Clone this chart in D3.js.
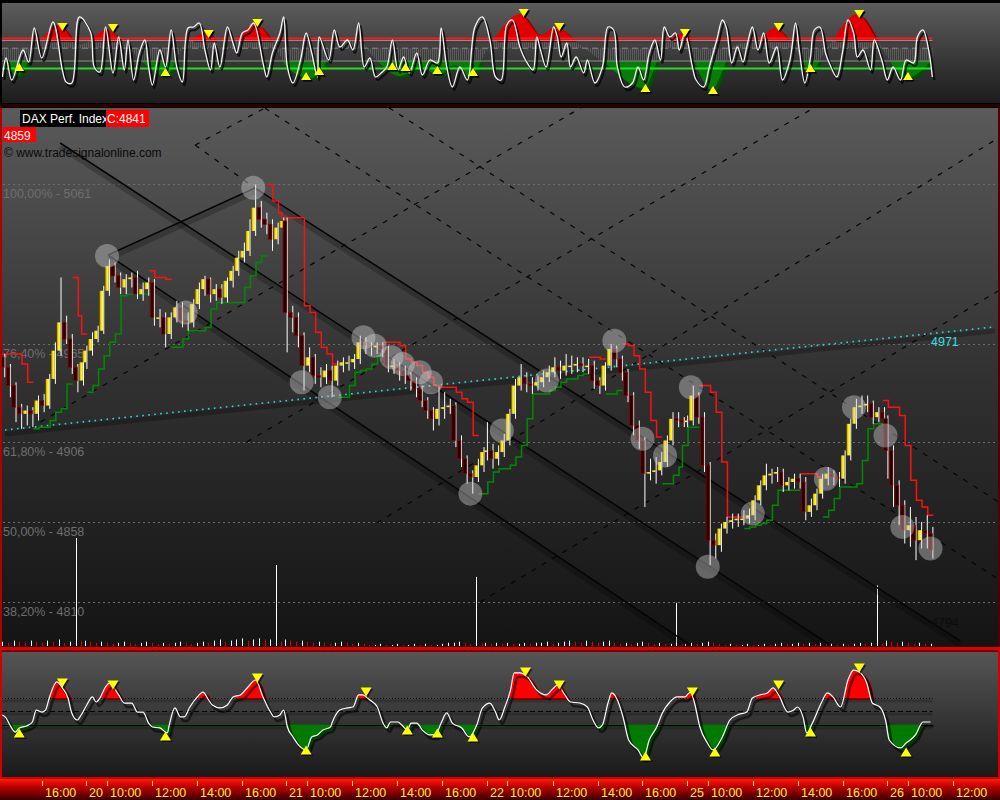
<!DOCTYPE html>
<html>
<head>
<meta charset="utf-8">
<title>DAX Perf. Index</title>
<script src="https://cdn.jsdelivr.net/npm/d3@7/dist/d3.min.js"></script>
<style>
  html, body { margin: 0; padding: 0; background: #000; }
  svg { display: block; font-family: "Liberation Sans", Arial, sans-serif; }
</style>
</head>
<body>
<svg id="chart" width="1000" height="800"></svg>
<script>
// ---------------- data ----------------
const dayLabels = ["19", "20", "21", "22", "25", "26"];
const barsPerDay = [15, 36, 36, 36, 36, 9];
const firstBarMinute = [315, 0, 0, 0, 0, 0];   // minutes after 09:00
const sessionLength = 534;                      // minutes per trading day on the time axis
const barMinutes = 15;
const hourTicks = [10, 12, 14, 16];

const firstOpen = 4957;
const closes = [
  4951, 4940, 4927, 4923, 4925, 4923, 4931, 4928, 4944, 4961, 4978, 4968, 4951, 4943, 4954,
  4961, 4968, 4973, 4997, 5012, 5006, 4999, 5004, 5005, 4995, 4998, 5002, 4981, 4981, 4971, 4981, 4987, 4979, 4978, 4989, 4998, 5004, 4995, 4998, 4993, 5003, 5009, 5017, 5021, 5033, 5047, 5040, 5037, 5028, 5035, 5039,
  4984, 4981, 4970, 4952, 4957, 4946, 4945, 4949, 4943, 4952, 4954, 4954, 4956, 4966, 4964, 4963, 4964, 4962, 4952, 4952, 4949, 4946, 4943, 4938, 4931, 4925, 4920, 4926, 4927, 4928, 4907, 4896, 4887, 4885, 4892, 4900,
  4901, 4896, 4900, 4907, 4923, 4940, 4945, 4941, 4940, 4942, 4945, 4948, 4951, 4949, 4952, 4952, 4953, 4952, 4952, 4943, 4940, 4952, 4962, 4956, 4948, 4934, 4916, 4907, 4887, 4888, 4889, 4894, 4907, 4920, 4919, 4918,
  4919, 4934, 4921, 4892, 4847, 4844, 4854, 4858, 4859, 4860, 4860, 4862, 4871, 4880, 4886, 4887, 4888, 4880, 4882, 4884, 4882, 4864, 4868, 4875, 4884, 4887, 4885, 4884, 4898, 4917, 4927, 4928, 4929, 4921, 4924, 4920,
  4901, 4880, 4868, 4853, 4856, 4847, 4853, 4851, 4841
];
const highs = [
  4959, 4953, 4942, 4929, 4928, 4927, 4934, 4935, 4947, 4966, 5005, 4982, 4971, 4953, 4957,
  4964, 4972, 4976, 5000, 5016, 5014, 5008, 5007, 5008, 5009, 5002, 5005, 5004, 4986, 4984, 4984, 4991, 4990, 4984, 4992, 5002, 5006, 5005, 5001, 5001, 5005, 5012, 5021, 5026, 5040, 5061, 5051, 5044, 5040, 5038, 5041,
  5041, 4988, 4984, 4972, 4963, 4959, 4951, 4953, 4952, 4955, 4957, 4958, 4959, 4970, 4969, 4966, 4966, 4966, 4964, 4956, 4954, 4952, 4948, 4945, 4940, 4933, 4927, 4939, 4936, 4932, 4930, 4910, 4898, 4889, 4896, 4903,
  4918, 4905, 4904, 4911, 4926, 4944, 4953, 4948, 4945, 4946, 4949, 4952, 4957, 4955, 4959, 4958, 4957, 4957, 4956, 4955, 4945, 4954, 4965, 4964, 4958, 4950, 4936, 4919, 4909, 4896, 4897, 4900, 4910, 4924, 4924, 4921,
  4922, 4940, 4936, 4924, 4894, 4851, 4857, 4861, 4863, 4863, 4865, 4866, 4874, 4883, 4893, 4890, 4891, 4890, 4885, 4887, 4887, 4885, 4872, 4878, 4887, 4891, 4889, 4888, 4901, 4920, 4932, 4934, 4934, 4931, 4927, 4927,
  4922, 4904, 4883, 4871, 4867, 4861, 4858, 4862, 4855
];
const lows = [
  4945, 4933, 4918, 4914, 4916, 4915, 4919, 4924, 4926, 4941, 4958, 4965, 4947, 4936, 4940,
  4950, 4958, 4966, 4971, 4994, 5002, 4995, 4995, 4999, 4992, 4991, 4994, 4976, 4975, 4963, 4968, 4978, 4975, 4973, 4975, 4986, 4994, 4990, 4991, 4989, 4990, 4999, 5006, 5014, 5018, 5030, 5035, 5031, 5021, 5025, 5031,
  4960, 4972, 4963, 4937, 4948, 4941, 4939, 4941, 4933, 4940, 4948, 4949, 4950, 4953, 4959, 4958, 4959, 4957, 4948, 4947, 4943, 4941, 4937, 4933, 4927, 4920, 4913, 4916, 4920, 4923, 4903, 4891, 4881, 4875, 4882, 4888,
  4895, 4890, 4892, 4897, 4904, 4920, 4937, 4936, 4935, 4937, 4939, 4942, 4945, 4944, 4946, 4947, 4948, 4948, 4947, 4938, 4935, 4937, 4949, 4951, 4943, 4930, 4910, 4902, 4867, 4883, 4881, 4886, 4891, 4904, 4915, 4915,
  4915, 4916, 4917, 4888, 4832, 4836, 4840, 4851, 4854, 4855, 4856, 4857, 4859, 4868, 4877, 4881, 4882, 4876, 4877, 4878, 4878, 4859, 4861, 4865, 4872, 4880, 4880, 4879, 4881, 4895, 4914, 4923, 4924, 4917, 4918, 4915,
  4884, 4867, 4856, 4845, 4843, 4835, 4842, 4842, 4836
];
const volumes = [
  4, 3, 5, 4, 3, 5, 4, 3, 5, 4, 6, 3, 4, 100, 5,
  5, 4, 3, 4, 3, 2, 3, 4, 3, 2, 3, 4, 3, 2, 3, 2, 3, 4, 3, 2, 3, 4, 3, 5, 6, 4, 5, 6, 7, 5, 6, 7, 6, 6, 75, 4,
  6, 5, 4, 5, 4, 3, 4, 3, 2, 3, 4, 3, 2, 3, 2, 1, 1, 2, 1, 1, 2, 1, 1, 2, 1, 2, 1, 1, 2, 3, 3, 4, 3, 2, 64, 3,
  3, 2, 3, 2, 3, 2, 2, 3, 2, 3, 3, 4, 2, 3, 4, 5, 4, 3, 5, 4, 3, 4, 5, 3, 2, 3, 2, 3, 4, 3, 2, 3, 2, 2, 40, 2,
  2, 3, 2, 3, 4, 3, 2, 1, 2, 1, 1, 2, 1, 1, 2, 1, 2, 3, 2, 2, 3, 2, 3, 2, 3, 2, 2, 1, 2, 1, 2, 3, 2, 3, 56, 2,
  5, 4, 3, 4, 3, 2, 3, 2, 2
];

// Fibonacci retracement of the swing
const fibLow = 4655, fibHigh = 5061;
const fibLevels = [0.382, 0.5, 0.618, 0.764, 1.0];

// swing markers (bar index, price)
const pivotBars   = [19, 33, 45, 54, 59, 65, 67, 70, 72, 75, 77, 84, 90, 98, 110, 115, 119, 124, 127, 135, 148, 153, 159, 162, 167];
const pivotPrices = [5018, 4984, 5059, 4942, 4933, 4969, 4964, 4957, 4953, 4948, 4942, 4875, 4913, 4943, 4967, 4908, 4898, 4939, 4831, 4863, 4884, 4927, 4910, 4855, 4842];

// trend lines: [day, time, price] -> [day, time, price]
const channelLines = [
  [["20", "16:35", 5058.8], ["26", "12:19", 4786.4]],
  [["19", "16:49", 5085.9], ["25", "15:26", 4784.0]],
  [["20", "10:03", 5018.5], ["25", "09:13", 4784.0]],
  [["20", "10:03", 5018.5], ["20", "16:35", 5058.8]]
];
const gridLines = [
  [["20", "13:55", 5084.7], ["20", "17:01", 5106.9]],
  [["20", "13:55", 5084.7], ["20", "16:35", 5058.8]],
  [["20", "17:01", 5106.9], ["26", "14:05", 4823.0]],
  [["21", "13:38", 5107.1], ["26", "14:05", 4869.4]],
  [["19", "15:29", 4914.5], ["22", "13:16", 5107.1]],
  [["20", "16:13", 4906.1], ["25", "14:43", 5107.1]],
  [["21", "13:06", 4857.3], ["26", "14:05", 5089.5]],
  [["21", "17:41", 4809.8], ["26", "14:05", 4997.5]]
];
const supportLine = [["19", "14:22", 4913.3], ["26", "13:52", 4975.3]];
const supportLabel = 4971;
const channelLabel = 4794;
const lastClose = 4841;
const markerPrice = 4859;

// upper oscillator: fast line (5-minute steps from the first bar) and its smoothed signal
const fastU = [0,2,5,11,14,17,21,27,32,34,37,41,47,49,52,55,59,62,65,67,70,73,76,78,80,84,87,90,93,96,99,102,105,108,111,113,116,120,123,125,128,131,134,139,141,144,148,150,152,155,159,162,165,168,169,174,177,180,184,187,190,193,196,199,202,205,208,211,214,217,221,224,228,232,234,237,240,244,248,252,256,260,263,266,269,272,276,279,283,285,287,290,294,296,298,301,303,306,310,312,316,320,323,326,328,332,336,339,342,345,348,351,353,356,359,361,364,368,370,374,377,381,384,386,389,392,395,397,400,403,406,409,413,416,420,423,425,428,431,433,436,439,441,445,448,451,454,456,459,463,465,469,472,475,479,482,486,488,491,494,496];
const fastV = [-265,-75,-295,5,-115,225,-75,285,-195,-315,-325,335,185,-165,-215,235,-225,135,-195,105,-295,-25,105,-165,-345,5,-165,205,-165,-315,225,235,275,5,-195,75,-165,235,75,-25,175,205,275,-125,-265,-25,175,335,-165,-325,-95,175,-25,-265,135,-95,205,35,105,5,275,-165,-75,-265,-225,-165,105,-195,-65,-225,-25,-245,-95,-125,225,-165,-365,-165,-295,235,335,105,-265,-295,255,305,35,-95,-195,135,5,-165,235,135,-65,75,-165,-65,-225,-95,-325,-165,235,205,-165,-365,-325,-165,-295,-25,105,-95,235,135,175,5,175,-165,-295,-365,-165,105,305,235,-125,35,-115,35,235,5,175,-125,35,-295,-95,275,5,-325,-65,205,235,-25,-125,-265,-25,305,175,-65,5,-195,105,-95,-295,-165,-295,-95,-125,135,205,5,-265];
const slowU = [0,8,17,30,41,56,68,87,97,110,117,135,145,153,165,180,190,197,212,223,233,241,249,260,276,287,295,308,319,342,353,364,371,378,391,403,412,423,431,441,456,468,482,496];
const slowV = [-45,-255,5,255,55,205,5,-255,55,175,5,265,55,-195,-275,55,105,-45,-255,-175,-245,-145,-265,55,365,155,235,55,-95,-375,55,175,-195,-395,55,105,225,5,-195,55,365,55,-275,-95];
const fastUpper = 120, fastLower = -180, slowUpper = 100, slowLower = -100, slowCentre = 23;
const topSellU = [32,59,110,136,278,297,364,414,457];
const topSellV = [235,225,165,275,375,235,175,235,365];
const topBuyU = [9,87,162,169,208,215,232,251,343,379,431,483];
const topBuyV = [-165,-215,-255,-205,-155,-165,-195,-215,-375,-395,-175,-255];

// lower oscillator
const oscU = [0,2,4,7,9,13,16,18,21,23,25,29,32,35,37,40,42,45,48,50,52,55,57,62,65,69,72,75,78,80,84,88,89,92,95,97,100,104,107,110,112,116,120,123,127,131,135,139,143,145,148,150,152,155,158,162,165,168,171,175,176,180,184,187,190,192,196,200,203,205,207,211,213,216,218,221,224,228,231,234,237,240,245,249,253,256,260,263,265,268,271,273,276,280,285,290,294,296,300,303,308,312,315,318,320,323,325,328,331,334,339,342,345,349,352,356,360,364,367,369,372,376,379,384,388,392,397,400,404,408,411,414,419,422,424,427,429,432,437,440,443,447,451,454,457,461,464,468,471,473,479,482,487,491,495];
const oscV = [-28,-51,-104,-157,-126,-111,-81,9,-6,9,100,221,176,100,-13,-66,-28,47,108,70,100,183,213,123,62,62,-6,-6,-89,-119,-126,-164,-104,25,-43,-43,32,108,145,85,47,25,47,108,123,183,236,108,-6,-43,-28,9,-119,-194,-255,-292,-194,-179,-142,-119,-81,9,25,32,123,123,85,32,-89,-126,-81,-81,-104,-142,-89,-89,-142,-179,-179,-89,-13,-89,-126,-194,-104,25,62,-6,-66,32,160,289,289,259,160,123,176,198,123,70,62,32,-66,-126,-104,62,138,85,-43,-217,-292,-353,-217,-119,-13,70,108,108,145,70,-119,-240,-292,-194,-66,-28,-6,100,123,138,176,123,-6,9,32,-43,-164,-89,70,138,108,32,236,311,296,213,62,32,-66,-217,-277,-240,-179,-81,-81];
const oscUpper = 100, oscMid = 0, oscLower = -100;
const oscSellU = [32,59,136,194,279,297,368,414,457];
const oscSellV = [213,198,251,145,296,198,145,198,326];
const oscBuyU = [9,87,162,216,232,251,343,380,431,482];
const oscBuyV = [-164,-187,-292,-142,-164,-194,-338,-308,-157,-308];

// ---------------- scales ----------------
const svg = d3.select("#chart");
const defs = svg.append("defs");

const x = d3.scaleLinear().domain([0, 2000]).range([-115.75, 634.25]);       // trading minutes
const y = d3.scaleLinear().domain([4810, 5061]).range([601.7, 184.4]);       // price
const yVol = d3.scaleLinear().domain([0, 100]).range([646, 538]);
const yTop = d3.scaleLinear().domain([-100, 100]).range([60.5, 40.5]);
const yBot = d3.scaleLinear().domain([-100, 100]).range([724.5, 698]);

const firstMinute = firstBarMinute[0];
const tOfStep = u => firstMinute + 5 * u;
function tOf([day, hhmm]) {
  const d = dayLabels.indexOf(day);
  const [h, m] = hhmm.split(":").map(Number);
  return d * sessionLength + (h - 9) * 60 + m;
}

// bars
const bars = [];
{
  let prev = firstOpen, i = 0;
  barsPerDay.forEach((n, d) => {
    for (let k = 0; k < n; k++) {
      const c = closes[i];
      bars.push({
        i, t: d * sessionLength + firstBarMinute[d] + k * barMinutes,
        o: prev, c,
        h: Math.max(highs[i], prev, c),
        l: Math.min(lows[i], prev, c),
        v: volumes[i],
        vUp: i === 0 || volumes[i] >= volumes[i - 1]
      });
      prev = c; i++;
    }
  });
}

// ---------------- helpers ----------------
function vGrad(id, stops) {
  const g = defs.append("linearGradient").attr("id", id)
    .attr("x1", 0).attr("y1", 0).attr("x2", 0).attr("y2", 1);
  stops.forEach(([o, c]) => g.append("stop").attr("offset", o).attr("stop-color", c));
}
function hGrad(id, stops) {
  const g = defs.append("linearGradient").attr("id", id)
    .attr("x1", 0).attr("y1", 0).attr("x2", 1).attr("y2", 0);
  stops.forEach(([o, c]) => g.append("stop").attr("offset", o).attr("stop-color", c));
}
function clipRect(id, x0, y0, w, h) {
  defs.append("clipPath").attr("id", id).append("rect")
    .attr("x", x0).attr("y", y0).attr("width", w).attr("height", h);
}
const tri = (cx, cy, w, h, down) => down
  ? `M${cx - w / 2},${cy - h / 2}L${cx + w / 2},${cy - h / 2}L${cx},${cy + h / 2}Z`
  : `M${cx - w / 2},${cy + h / 2}L${cx + w / 2},${cy + h / 2}L${cx},${cy - h / 2}Z`;

vGrad("gTop", [[0, "#5c5c5c"], [1, "#1c1c1c"]]);
vGrad("gMain", [[0, "#5a5a5a"], [0.5, "#313131"], [1, "#141414"]]);
vGrad("gBot", [[0, "#555555"], [1, "#1a1a1a"]]);
vGrad("gAxis", [[0, "#ff1a0a"], [0.35, "#c00000"], [1, "#3a0000"]]);
hGrad("gUp", [[0, "#b89400"], [0.45, "#ffe600"], [1, "#ffff60"]]);

// hatch for the smoothed signal histogram
const hatch = defs.append("pattern").attr("id", "hatchGray")
  .attr("patternUnits", "userSpaceOnUse").attr("width", 2).attr("height", 4);
hatch.append("rect").attr("width", 1).attr("height", 4).attr("fill", "#767676").attr("opacity", 0.55);

// ---------------- frame ----------------
svg.append("rect").attr("width", 1000).attr("height", 800).attr("fill", "#000");

// top panel
svg.append("rect").attr("x", 2).attr("y", 3).attr("width", 998).attr("height", 100).attr("fill", "url(#gTop)");
svg.append("rect").attr("x", 0).attr("y", 104).attr("width", 1000).attr("height", 3).attr("fill", "#2a0000");
// main panel
svg.append("rect").attr("x", 2).attr("y", 108).attr("width", 996).attr("height", 539).attr("fill", "url(#gMain)");
svg.append("rect").attr("x", 0).attr("y", 108).attr("width", 2).attr("height", 540).attr("fill", "#b00000");
svg.append("rect").attr("x", 998).attr("y", 108).attr("width", 2).attr("height", 540).attr("fill", "#500000");
svg.append("rect").attr("x", 0).attr("y", 647).attr("width", 1000).attr("height", 3).attr("fill", "#e00000");
// oscillator panel
svg.append("rect").attr("x", 2).attr("y", 652).attr("width", 996).attr("height", 125).attr("fill", "url(#gBot)");
svg.append("rect").attr("x", 0).attr("y", 650).attr("width", 1000).attr("height", 2).attr("fill", "#7a0000");
svg.append("rect").attr("x", 0).attr("y", 650).attr("width", 2).attr("height", 129).attr("fill", "#d00000");
svg.append("rect").attr("x", 998).attr("y", 650).attr("width", 2).attr("height", 129).attr("fill", "#d00000");
svg.append("rect").attr("x", 0).attr("y", 777).attr("width", 1000).attr("height", 2).attr("fill", "#d00000");
// time axis strip
svg.append("rect").attr("x", 0).attr("y", 779).attr("width", 1000).attr("height", 21).attr("fill", "url(#gAxis)");

clipRect("clipTop", 2, 3, 998, 100);
clipRect("clipMain", 2, 108, 996, 539);
clipRect("clipBot", 2, 652, 996, 125);

// ---------------- upper oscillator ----------------
{
  const g = svg.append("g").attr("clip-path", "url(#clipTop)");
  const xEnd = x(tOfStep(d3.max(fastU)));
  const xStart = 2;
  const slowPts = slowU.map((u, i) => [x(tOfStep(u)), slowV[i]]);
  const areaFrom = base => d3.area().x(d => d[0]).y0(yTop(base)).y1(d => yTop(d[1])).curve(d3.curveMonotoneX);

  clipRect("clipTopMid", 0, yTop(slowUpper), 1000, yTop(slowLower) - yTop(slowUpper));
  clipRect("clipTopHi", 0, 0, 1000, yTop(slowUpper));
  clipRect("clipTopLo", 0, yTop(slowLower), 1000, 120 - yTop(slowLower));

  g.append("path").datum(slowPts).attr("d", areaFrom(slowCentre)).attr("fill", "url(#hatchGray)")
    .attr("clip-path", "url(#clipTopMid)");
  g.append("path").datum(slowPts).attr("d", areaFrom(slowUpper)).attr("fill", "#8a0000")
    .attr("transform", "translate(3,2)").attr("clip-path", "url(#clipTopHi)");
  g.append("path").datum(slowPts).attr("d", areaFrom(slowUpper)).attr("fill", "#e00000")
    .attr("clip-path", "url(#clipTopHi)");
  g.append("path").datum(slowPts).attr("d", areaFrom(slowLower)).attr("fill", "#005000")
    .attr("transform", "translate(3,2)").attr("clip-path", "url(#clipTopLo)");
  g.append("path").datum(slowPts).attr("d", areaFrom(slowLower)).attr("fill", "#0a7a0a")
    .attr("clip-path", "url(#clipTopLo)");

  // level lines
  g.append("line").attr("x1", xStart).attr("x2", xEnd).attr("y1", yTop(slowUpper)).attr("y2", yTop(slowUpper))
    .attr("stroke", "#8c8c8c").attr("stroke-width", 1);
  g.append("line").attr("x1", xStart).attr("x2", xEnd).attr("y1", yTop(slowLower) + 0.5).attr("y2", yTop(slowLower) + 0.5)
    .attr("stroke", "#8c8c8c").attr("stroke-width", 1);
  g.append("line").attr("x1", xStart).attr("x2", xEnd).attr("y1", yTop(slowCentre)).attr("y2", yTop(slowCentre))
    .attr("stroke", "#8c8c8c").attr("stroke-width", 1).attr("stroke-dasharray", "6,4");
  g.append("line").attr("x1", xStart).attr("x2", xEnd).attr("y1", yTop(fastUpper)).attr("y2", yTop(fastUpper))
    .attr("stroke", "#ff1a1a").attr("stroke-width", 2);
  g.append("line").attr("x1", xStart).attr("x2", xEnd).attr("y1", yTop(fastLower)).attr("y2", yTop(fastLower))
    .attr("stroke", "#22dd22").attr("stroke-width", 2);

  const fastLine = d3.line().x(u => x(tOfStep(u))).y((u, i) => yTop(fastV[i]))
    .curve(d3.curveCatmullRom.alpha(0.5));
  g.append("path").datum(fastU).attr("d", fastLine).attr("fill", "none")
    .attr("stroke", "#000").attr("stroke-opacity", 0.75).attr("stroke-width", 2)
    .attr("transform", "translate(2,3)");
  g.append("path").datum(fastU).attr("d", fastLine).attr("fill", "none")
    .attr("stroke", "#f4f4f4").attr("stroke-width", 1.3);

  [[topSellU, topSellV, true], [topBuyU, topBuyV, false]].forEach(([us, vs, down]) => {
    us.forEach((u, i) => {
      const cx = x(tOfStep(u)), cy = yTop(vs[i]);
      g.append("path").attr("d", tri(cx + 1.5, cy + 1.5, 10, 8, down)).attr("fill", "#000");
      g.append("path").attr("d", tri(cx, cy, 10, 8, down)).attr("fill", "#ffff00");
    });
  });
}

// ---------------- main price panel ----------------
{
  const g = svg.append("g").attr("clip-path", "url(#clipMain)");
  const xMax = 1000;

  // Fibonacci levels
  fibLevels.forEach(f => {
    const p = fibLow + (fibHigh - fibLow) * f;
    const yy = Math.round(y(p)) + 0.5;
    g.append("line").attr("x1", 3).attr("x2", xMax).attr("y1", yy).attr("y2", yy)
      .attr("stroke", "#6c6c6c").attr("stroke-width", 1).attr("stroke-dasharray", "2,3");
    g.append("text").attr("x", 3).attr("y", yy + 13.5)
      .attr("font-size", 12.5).attr("fill", "#6e6e6e")
      .text(`${(f * 100).toFixed(2).replace(".", ",")}% - ${Math.round(p)}`);
  });

  // volume
  g.selectAll("line.vol").data(bars).join("line").attr("class", "vol")
    .attr("x1", d => Math.round(x(d.t)) + 0.5).attr("x2", d => Math.round(x(d.t)) + 0.5)
    .attr("y1", yVol(0)).attr("y2", d => yVol(d.v))
    .attr("stroke", d => d.vUp ? "#ffffff" : "#e00000").attr("stroke-width", 1);

  const seg = ([a, b]) => ({ x1: x(tOf(a)), y1: y(a[2]), x2: x(tOf(b)), y2: y(b[2]) });

  // dashed construction grid
  gridLines.map(seg).forEach(s => {
    g.append("line").attr("x1", s.x1).attr("y1", s.y1).attr("x2", s.x2).attr("y2", s.y2)
      .attr("stroke", "#050505").attr("stroke-width", 1.2).attr("stroke-dasharray", "5,7");
  });

  // channel lines with their shadow band
  channelLines.map(seg).forEach(s => {
    g.append("line").attr("x1", s.x1).attr("y1", s.y1 + 4).attr("x2", s.x2).attr("y2", s.y2 + 4)
      .attr("stroke", "#000").attr("stroke-opacity", 0.22).attr("stroke-width", 5);
    g.append("line").attr("x1", s.x1).attr("y1", s.y1).attr("x2", s.x2).attr("y2", s.y2)
      .attr("stroke", "#050505").attr("stroke-width", 1.6);
  });

  // support line
  {
    const s = seg(supportLine);
    g.append("line").attr("x1", s.x1).attr("y1", s.y1 + 4).attr("x2", s.x2).attr("y2", s.y2 + 4)
      .attr("stroke", "#000").attr("stroke-opacity", 0.25).attr("stroke-width", 5);
    g.append("line").attr("x1", s.x1).attr("y1", s.y1).attr("x2", s.x2).attr("y2", s.y2)
      .attr("stroke", "#22e0e0").attr("stroke-width", 1.6).attr("stroke-dasharray", "1.6,4.4");
  }

  // trailing stop lines (highest high / lowest low of the previous bars)
  {
    const n = 3;
    let up = false, stop = bars[0].h;
    const runs = [];
    let run = null;
    bars.forEach((b, i) => {
      if (i > 0) {
        const win = bars.slice(Math.max(0, i - n), i);
        const hh = d3.max(win, d => d.h), ll = d3.min(win, d => d.l);
        if (up) {
          stop = Math.max(stop, ll);
          if (b.c < stop) { up = false; stop = hh; }
        } else {
          stop = Math.min(stop, hh);
          if (b.c > stop) { up = true; stop = ll; }
        }
      }
      if (!run || run.up !== up) { run = { up, pts: [] }; runs.push(run); }
      run.pts.push([x(b.t - barMinutes / 2), y(stop), x(b.t + barMinutes / 2)]);
    });
    const step = d3.line().curve(d3.curveStepAfter);
    runs.forEach(r => {
      const pts = r.pts.map(p => [p[0], p[1]]);
      const last = r.pts[r.pts.length - 1];
      pts.push([last[2], last[1]]);
      g.append("path").attr("d", step(pts)).attr("fill", "none")
        .attr("stroke", r.up ? "#008a00" : "#ff1010").attr("stroke-width", 1.5);
    });
  }

  // candles
  const bw = 3.4;
  g.selectAll("line.wick").data(bars).join("line").attr("class", "wick")
    .attr("x1", d => x(d.t) + 2.4).attr("x2", d => x(d.t) + 2.4)
    .attr("y1", d => y(d.h)).attr("y2", d => y(d.l))
    .attr("stroke", "#ffffff").attr("stroke-width", 1);
  g.selectAll("rect.body").data(bars).join("rect").attr("class", "body")
    .attr("x", d => x(d.t) - bw / 2)
    .attr("y", d => y(Math.max(d.o, d.c)))
    .attr("width", bw)
    .attr("height", d => Math.max(1.5, Math.abs(y(d.o) - y(d.c))))
    .attr("fill", d => d.c >= d.o ? "url(#gUp)" : "#1a0000")
    .attr("stroke", d => d.c >= d.o ? "none" : "#8a0000")
    .attr("stroke-width", 0.9);

  // swing markers
  g.selectAll("circle.pivot").data(pivotBars).join("circle").attr("class", "pivot")
    .attr("cx", b => x(bars[b].t)).attr("cy", (b, i) => y(pivotPrices[i]))
    .attr("r", 12).attr("fill", "#d0d0d0").attr("fill-opacity", 0.42);

  // right-hand value tags
  g.append("text").attr("x", 931).attr("y", y(supportLabel) + 11.5)
    .attr("font-size", 12.5).attr("fill", "#2fe0e0").text(String(supportLabel));
  g.append("text").attr("x", 931).attr("y", y(channelLabel) - 1)
    .attr("font-size", 12.5).attr("fill", "#0c0c0c").text(String(channelLabel));

  // header
  g.append("rect").attr("x", 20).attr("y", 110).attr("width", 86).attr("height", 17).attr("fill", "#000");
  g.append("text").attr("x", 22).attr("y", 123).attr("font-size", 12).attr("fill", "#fff").text("DAX Perf. Index");
  g.append("rect").attr("x", 106).attr("y", 110).attr("width", 43).attr("height", 17).attr("fill", "#ff0000");
  g.append("text").attr("x", 107).attr("y", 123).attr("font-size", 12).attr("fill", "#fff").text(`C:${lastClose}`);
  g.append("rect").attr("x", 3).attr("y", 127).attr("width", 33).attr("height", 15).attr("fill", "#ff0000");
  g.append("text").attr("x", 4).attr("y", 139.5).attr("font-size", 12).attr("fill", "#fff").text(String(markerPrice));
  g.append("text").attr("x", 4).attr("y", 157).attr("font-size", 12).attr("fill", "#0a0a0a")
    .text("\u00a9 www.tradesignalonline.com");
}

// ---------------- lower oscillator ----------------
{
  const g = svg.append("g").attr("clip-path", "url(#clipBot)");
  const pts = oscU.map((u, i) => [x(tOfStep(u)), oscV[i]]);
  const xEnd = x(tOfStep(d3.max(oscU))) + 2;
  const area = base => d3.area().x(d => d[0]).y0(yBot(base)).y1(d => yBot(d[1])).curve(d3.curveMonotoneX);

  clipRect("clipBotHi", 0, 640, 1000, yBot(oscUpper) - 640);
  clipRect("clipBotLo", 0, yBot(oscLower), 1000, 780 - yBot(oscLower));

  // level lines with faint bands below
  [[oscUpper, "1,2"], [oscMid, "5,3"], [oscLower, null]].forEach(([v, dash]) => {
    const yy = Math.round(yBot(v)) + 0.5;
    g.append("rect").attr("x", 2).attr("y", yy + 1).attr("width", xEnd - 2).attr("height", 3)
      .attr("fill", "#000").attr("opacity", 0.18);
    const l = g.append("line").attr("x1", 2).attr("x2", xEnd).attr("y1", yy).attr("y2", yy)
      .attr("stroke", "#000").attr("stroke-width", 1.2);
    if (dash) l.attr("stroke-dasharray", dash);
  });

  g.append("path").datum(pts).attr("d", area(oscUpper)).attr("fill", "#7a0000")
    .attr("transform", "translate(4,2)").attr("clip-path", "url(#clipBotHi)");
  g.append("path").datum(pts).attr("d", area(oscUpper)).attr("fill", "#ff0000")
    .attr("clip-path", "url(#clipBotHi)");
  g.append("path").datum(pts).attr("d", area(oscLower)).attr("fill", "#004000")
    .attr("transform", "translate(4,2)").attr("clip-path", "url(#clipBotLo)");
  g.append("path").datum(pts).attr("d", area(oscLower)).attr("fill", "#007a00")
    .attr("clip-path", "url(#clipBotLo)");

  const line = d3.line().x(d => d[0]).y(d => yBot(d[1])).curve(d3.curveMonotoneX);
  g.append("path").datum(pts).attr("d", line).attr("fill", "none")
    .attr("stroke", "#000").attr("stroke-opacity", 0.55).attr("stroke-width", 2.5)
    .attr("transform", "translate(3,4)");
  g.append("path").datum(pts).attr("d", line).attr("fill", "none")
    .attr("stroke", "#ffffff").attr("stroke-width", 1.2);

  [[oscSellU, oscSellV, true], [oscBuyU, oscBuyV, false]].forEach(([us, vs, down]) => {
    us.forEach((u, i) => {
      const cx = x(tOfStep(u)), cy = yBot(vs[i]);
      g.append("path").attr("d", tri(cx + 1.5, cy + 1.5, 11, 9, down)).attr("fill", "#000").attr("opacity", 0.6);
      g.append("path").attr("d", tri(cx, cy, 11, 9, down)).attr("fill", "#ffff00");
    });
  });
}

// ---------------- time axis ----------------
{
  const ticks = [];
  dayLabels.forEach((lab, d) => {
    if (d > 0) ticks.push({ t: d * sessionLength + 4, label: lab });
    hourTicks.forEach(h => ticks.push({ t: d * sessionLength + (h - 9) * 60, label: `${h}:00` }));
  });
  const g = svg.append("g");
  ticks.filter(k => x(k.t) >= 5 && x(k.t) <= 985).forEach(k => {
    const xx = Math.round(x(k.t)) + 0.5;
    g.append("line").attr("x1", xx).attr("x2", xx).attr("y1", 781).attr("y2", 786)
      .attr("stroke", "#ffee33").attr("stroke-width", 1);
    g.append("text").attr("x", xx + 2.5).attr("y", 797).attr("font-size", 12.5)
      .attr("fill", "#ffee33").text(k.label);
  });
}
</script>
</body>
</html>
